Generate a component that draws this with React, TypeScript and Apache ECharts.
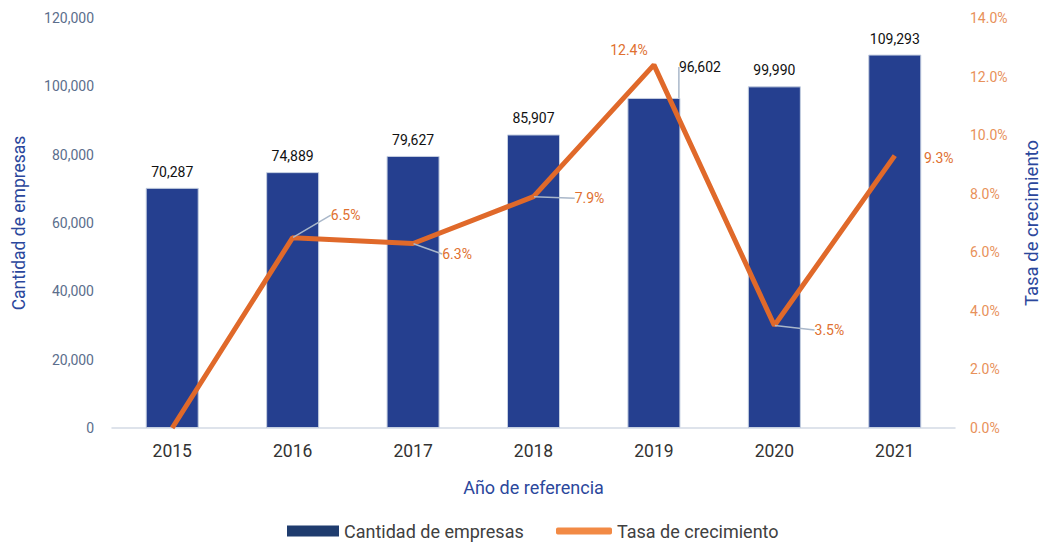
import React, { useEffect, useRef } from "react";
import * as echarts from "echarts";

const years = ["2015", "2016", "2017", "2018", "2019", "2020", "2021"];
const companies = [70287, 74889, 79627, 85907, 96602, 99990, 109293];
const growth = [0, 6.5, 6.3, 7.9, 12.4, 3.5, 9.3];

// label offsets (style only): dx, dy; labels with a leader line
const leaderOffsets: Record<number, [number, number]> = {
  1: [53, -10],
  2: [44, 23],
  3: [56, 14],
  5: [55, 17],
};
// labels without a leader line
const plainIdx = [4, 6];

const FONT = "Roboto";

export default function App() {
  const ref = useRef<HTMLDivElement>(null);
  useEffect(() => {
    document.body.style.margin = "0";
    const chart = echarts.init(ref.current!, null, { renderer: "svg" });
    const leader = { color: "#a9b7c9", width: 1.5 };
    const lineLabelBase = {
      show: true,
      position: "top",
      distance: 5,
      color: "#e0702f",
      fontSize: 14,
      fontFamily: FONT,
      formatter: (p: any) => Number(p.value).toFixed(1) + "%",
    };
    chart.setOption({
      animation: false,
      textStyle: { fontFamily: FONT },
      grid: {
        left: 112,
        right: 87,
        top: 18,
        bottom: 118,
        containLabel: false,
        outerBoundsMode: "none",
      },
      legend: [
        {
          left: 287,
          top: 522,
          padding: 0,
          itemWidth: 52,
          itemHeight: 11,
          textStyle: { fontSize: 18, color: "#404040", fontFamily: FONT },
          data: [
            {
              name: "Cantidad de empresas",
              icon: "rect",
              itemStyle: { color: "#1f3c6e", borderWidth: 0 },
            },
          ],
        },
        {
          left: 556,
          top: 522,
          padding: 0,
          itemWidth: 56,
          itemHeight: 7,
          textStyle: { fontSize: 18, color: "#404040", fontFamily: FONT },
          data: [
            {
              name: "Tasa de crecimiento",
              icon: "roundRect",
              itemStyle: { color: "#f28a45", opacity: 1 },
            },
          ],
        },
      ],
      xAxis: {
        type: "category",
        data: years,
        name: "Año de referencia",
        nameLocation: "middle",
        nameGap: 50,
        nameTextStyle: { color: "#2b479c", fontSize: 18, fontFamily: FONT },
        axisLine: { lineStyle: { color: "#d3dae5", width: 1.5 } },
        axisTick: { show: false },
        axisLabel: { color: "#333333", fontSize: 17.5, margin: 14, fontFamily: FONT },
      },
      yAxis: [
        {
          type: "value",
          min: 0,
          max: 120000,
          interval: 20000,
          name: "Cantidad de empresas",
          nameLocation: "middle",
          nameGap: 84,
          nameTextStyle: { color: "#2b479c", fontSize: 17.5, fontFamily: FONT },
          splitLine: { show: false },
          axisLine: { show: false },
          axisTick: { show: false },
          axisLabel: {
            color: "#5b6e8c",
            fontSize: 14,
            margin: 18,
            fontFamily: FONT,
            formatter: (v: number) => v.toLocaleString("en-US"),
          },
        },
        {
          type: "value",
          min: 0,
          max: 14,
          interval: 2,
          name: "Tasa de crecimiento",
          nameLocation: "middle",
          nameGap: 67,
          nameRotate: 90,
          nameTextStyle: { color: "#2b479c", fontSize: 18.5, fontFamily: FONT },
          splitLine: { show: false },
          axisLine: { show: false },
          axisTick: { show: false },
          axisLabel: {
            color: "#e8915a",
            fontSize: 14,
            margin: 15,
            fontFamily: FONT,
            formatter: (v: number) => v.toFixed(1) + "%",
          },
        },
      ],
      series: [
        {
          name: "Cantidad de empresas",
          type: "bar",
          data: companies.map((v, i) => ({
            value: v,
            labelLine: { show: i === 4, lineStyle: leader },
          })),
          barWidth: 53,
          itemStyle: { color: "#253f8f", borderColor: "#c5cfe0", borderWidth: 1 },
          label: {
            show: true,
            position: "top",
            distance: 9,
            color: "#111111",
            fontSize: 14,
            fontFamily: FONT,
            formatter: (p: any) => Number(p.value).toLocaleString("en-US"),
          },
          labelLine: { show: false, lineStyle: leader },
          labelLayout: (p: any) => (p.dataIndex === 4 ? { dx: 46, dy: -15 } : {}),
        },
        {
          name: "Tasa de crecimiento",
          type: "line",
          yAxisIndex: 1,
          data: growth.map((v, i) => (leaderOffsets[i] ? v : { value: v, label: { show: false } })),
          symbol: "circle",
          symbolSize: 1,
          showSymbol: true,
          lineStyle: { color: "#e0692a", width: 5 },
          itemStyle: { color: "rgba(224,105,42,0)", borderWidth: 0 },
          label: lineLabelBase,
          labelLine: { show: true, lineStyle: leader },
          labelLayout: (p: any) => {
            const o = leaderOffsets[p.dataIndex];
            return o ? { dx: o[0], dy: o[1] } : {};
          },
        },
        {
          name: "Tasa de crecimiento (etiquetas)",
          type: "line",
          yAxisIndex: 1,
          data: growth.map((v, i) => (plainIdx.includes(i) ? v : "-")),
          symbol: "circle",
          symbolSize: 1,
          showSymbol: true,
          connectNulls: false,
          lineStyle: { width: 0, opacity: 0 },
          itemStyle: { color: "rgba(224,105,42,0)", borderWidth: 0 },
          label: lineLabelBase,
          labelLine: { show: false },
          labelLayout: (p: any) =>
            p.dataIndex === 4 ? { dx: -25, dy: -2 } : p.dataIndex === 6 ? { dx: 44, dy: 15 } : {},
        },
      ],
    });
    return () => chart.dispose();
  }, []);
  return <div ref={ref} style={{ width: 1042, height: 546 }} />;
}
